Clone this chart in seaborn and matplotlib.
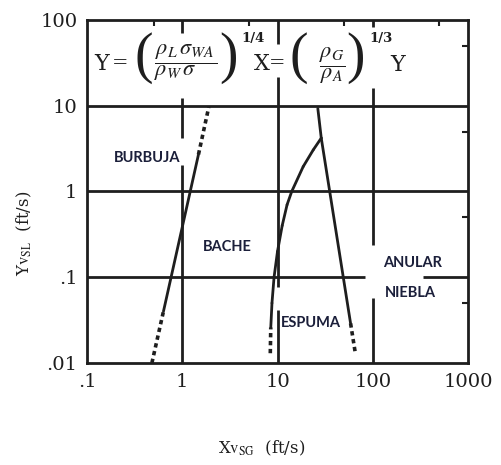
import matplotlib
matplotlib.use("Agg")
import matplotlib.pyplot as plt
import seaborn as sns
import pandas as pd

# Axis ticks
x_ticks = [0.1, 1, 10, 100, 1000]
x_tick_labels = [".1", "1", "10", "100", "1000"]
y_ticks = [0.01, 0.1, 1, 10, 100]
y_tick_labels = [".01", ".1", "1", "10", "100"]

# Bubble / slug transition
bubble_x = [0.48, 0.635, 1.48, 1.9]
bubble_y = [0.01, 0.04, 2.7, 9.7]
bubble_dash = [True, False, True]

# Slug / froth transition
froth_left_x = [8.4, 8.5, 8.75, 9.2, 10.0, 11.2, 12.6, 14.1, 18.6, 23.7, 28.8]
froth_left_y = [0.013, 0.026, 0.05, 0.1, 0.2, 0.4, 0.7, 1.0, 1.95, 3.05, 4.2]
froth_left_dash = [True] + [False] * 9

# Froth / annular-mist transition
froth_right_x = [26.5, 28.8, 58.5, 65.3]
froth_right_y = [9.3, 4.2, 0.029, 0.0135]
froth_right_dash = [False, False, True]

region_names = ["BURBUJA", "BACHE", "ESPUMA", "ANULAR", "NIEBLA"]

sns.set_style("white")
plt.rcParams["font.family"] = ["DejaVu Serif"]
plt.rcParams["mathtext.fontset"] = "stix"

W, H = 502, 465
ink = "#1e1e1e"
fig = plt.figure(figsize=(W / 100, H / 100), dpi=100)
ax = fig.add_axes([87 / W, 1 - 363 / H, 381 / W, 343 / H])
ax.set_xscale("log")
ax.set_yscale("log")
ax.set_xlim(0.1, 1000)
ax.set_ylim(0.01, 100)


def draw_boundary(xs, ys, dashed):
    for i, d in enumerate(dashed):
        seg = pd.DataFrame({"x": xs[i:i + 2], "y": ys[i:i + 2]})
        sns.lineplot(data=seg, x="x", y="y", ax=ax, color=ink,
                     lw=2.6 if d else 2.0,
                     linestyle=(0, (1.2, 1.0)) if d else "-",
                     estimator=None, sort=False)


# reference lines at the decades (broken where the text sits)
glw = 2.0
ax.hlines(10, 0.1, 1000, color=ink, lw=glw)
ax.hlines(1, 0.1, 1000, color=ink, lw=glw)
ax.hlines(0.1, 0.1, 83, color=ink, lw=glw)
ax.hlines(0.1, 336, 1000, color=ink, lw=glw)
ax.vlines(1, 70, 100, color=ink, lw=glw)
ax.vlines(1, 4.2, 12.3, color=ink, lw=glw)
ax.vlines(1, 0.01, 2.04, color=ink, lw=glw)
ax.vlines(10, 53, 100, color=ink, lw=glw)
ax.vlines(10, 0.077, 21.6, color=ink, lw=glw)
ax.vlines(10, 0.01, 0.042, color=ink, lw=glw)
ax.vlines(100, 83, 100, color=ink, lw=glw)
ax.vlines(100, 0.24, 16, color=ink, lw=glw)
ax.vlines(100, 0.01, 0.057, color=ink, lw=glw)

draw_boundary(bubble_x, bubble_y, bubble_dash)
draw_boundary(froth_left_x, froth_left_y, froth_left_dash)
draw_boundary(froth_right_x, froth_right_y, froth_right_dash)
ax.set_xlabel("")
ax.set_ylabel("")

for s in ax.spines.values():
    s.set_color(ink)
    s.set_linewidth(2.0)

ax.set_xticks(x_ticks)
ax.set_xticklabels(x_tick_labels)
ax.set_yticks(y_ticks)
ax.set_yticklabels(y_tick_labels)
ax.set_xticks([0.5, 5, 50, 500], minor=True)
ax.set_yticks([0.05, 0.5, 5, 50], minor=True)
ax.tick_params(which="minor", direction="in", length=4, width=1.5,
               top=True, right=True, labelbottom=False, labelleft=False,
               color=ink)
ax.tick_params(which="major", direction="out", length=3, width=1.5,
               labelsize=14, pad=4, color=ink, labelcolor=ink)


def ptext(px, py, s, **kw):
    kw.setdefault("color", ink)
    fig.text(px / W, 1 - py / H, s, **kw)


# correlating groups
c = dict(ha="center", va="center")
paren = dict(fontsize=40, fontfamily="Liberation Serif", **c)
ptext(102, 64, "Y", fontsize=16, **c)
ptext(120, 63, "=", fontsize=14, **c)
ptext(144, 58, "(", **paren)
ptext(186, 63, r"$\dfrac{\rho_{L}\,\sigma_{WA}}{\rho_{W}\,\sigma\ \ \ \ }$",
      fontsize=16, **c)
ptext(229, 58, ")", **paren)
ptext(253, 38, "1/4", fontsize=9.5, fontweight="bold", **c)
ptext(262, 64, "X", fontsize=16, **c)
ptext(277, 63, "=", fontsize=14, **c)
ptext(299, 58, "(", **paren)
ptext(332, 66, r"$\dfrac{\rho_{G}}{\rho_{A}}$", fontsize=16, **c)
ptext(356, 58, ")", **paren)
ptext(381, 38, "1/3", fontsize=9.5, fontweight="bold", **c)
ptext(398, 65, "Y", fontsize=16, **c)

lab = dict(fontfamily="Lato", fontweight="bold", fontsize=10.5,
           color="#1b1f3a", va="center")
ax.text(0.426, 2.45, region_names[0], ha="center", **lab)
ax.text(2.94, 0.225, region_names[1], ha="center", **lab)
ax.text(22.4, 0.029, region_names[2], ha="center", **lab)
ax.text(127, 0.147, region_names[3], ha="left", **lab)
ax.text(133, 0.0655, region_names[4], ha="left", **lab)

ptext(262, 448, r"X$\mathrm{v}_{\mathrm{SG}}$  (ft/s)",
      ha="center", va="center", fontsize=12)
ptext(24, 233, r"Y$\mathrm{v}_{\mathrm{SL}}$  (ft/s)",
      ha="center", va="center", fontsize=12, rotation=90)

fig.savefig("out.png", dpi=100)
